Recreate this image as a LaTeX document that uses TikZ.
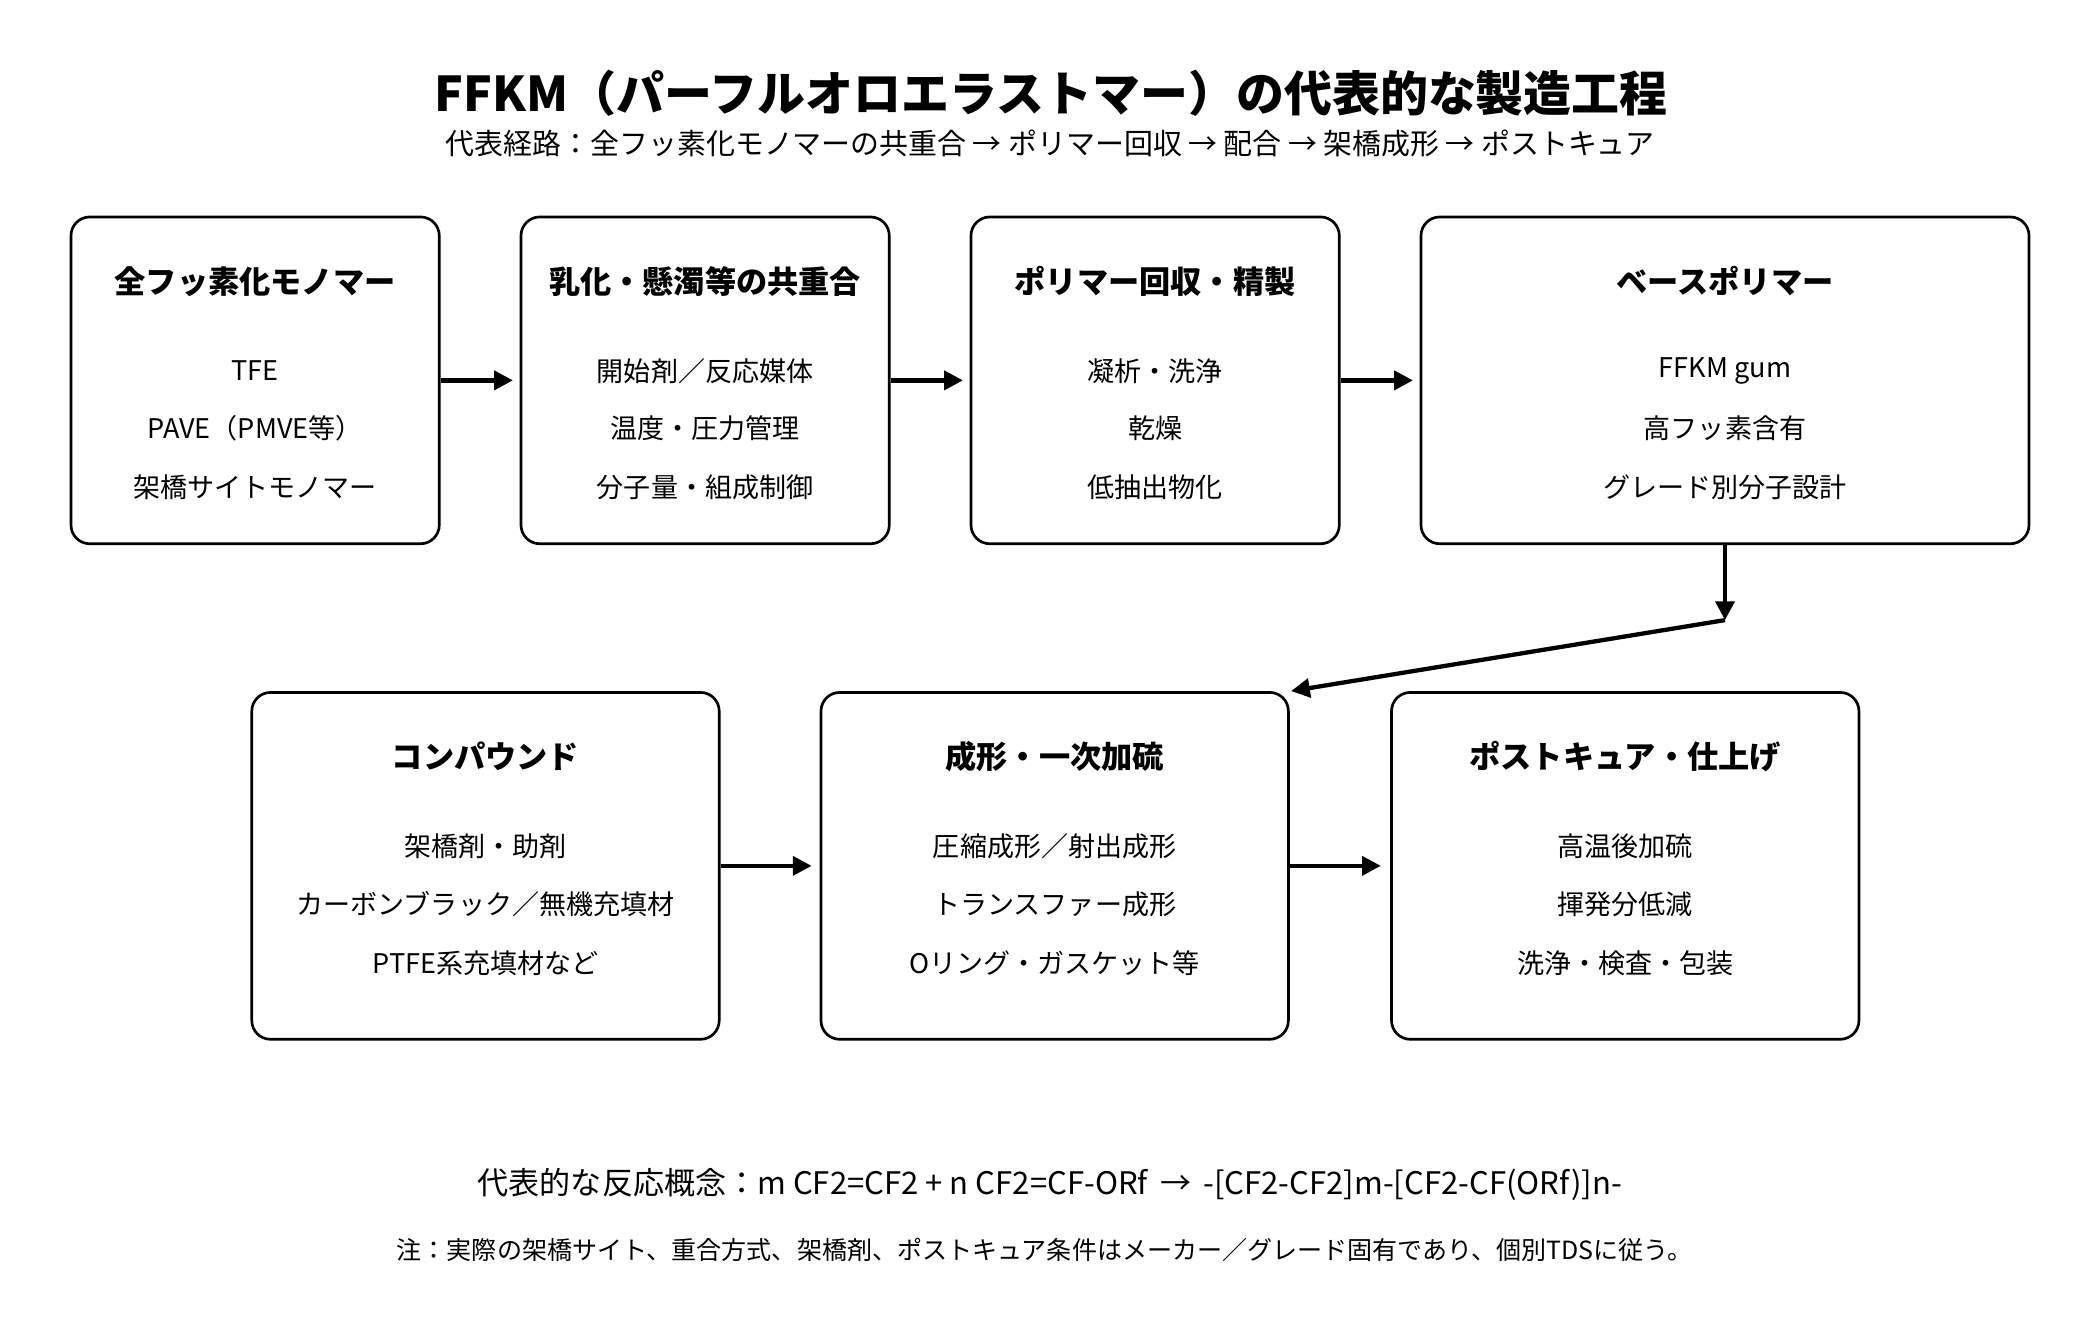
\documentclass[tikz,border=0pt]{standalone}
\usepackage{fontspec}
\setmainfont{Noto Sans CJK JP}
\usetikzlibrary{arrows.meta,positioning}
\tikzset{
    stage/.style={draw, line width=2pt, rounded corners=14pt, align=center},
    head/.style={font=\fontsize{23.3}{27}\selectfont\bfseries},
    item/.style={font=\fontsize{20.2}{24}\selectfont},
    flow/.style={line width=3.2pt, -{Triangle[length=14pt,width=14pt]}}
}
\begin{document}
\begin{tikzpicture}[x=1pt,y=-1pt]
    \useasboundingbox (0,0) rectangle (1568,985);

    \node[font=\fontsize{35.8}{40}\selectfont\bfseries] (title) at (785,70)
        {FFKM（パーフルオロエラストマー）の代表的な製造工程};
    \node[font=\fontsize{21.6}{26}\selectfont] (sub) at (784,107)
        {代表経路：全フッ素化モノマーの共重合 → ポリマー回収 → 配合 → 架橋成形 → ポストキュア};

    % row 1
    \node[stage, minimum width=275pt, minimum height=244pt] (mono) at (190.5,284) {};
    \node[stage, minimum width=275pt, minimum height=244pt] (poly) at (526.5,284) {};
    \node[stage, minimum width=275pt, minimum height=244pt] (recov) at (862.5,284) {};
    \node[stage, minimum width=454pt, minimum height=244pt] (base) at (1288,284) {};
    % row 2
    \node[stage, minimum width=349pt, minimum height=259pt] (comp) at (362.5,646.5) {};
    \node[stage, minimum width=349pt, minimum height=259pt] (mold) at (787.5,646.5) {};
    \node[stage, minimum width=349pt, minimum height=259pt] (post) at (1213.5,646.5) {};

    % texts
    \node[head] at (190.5,210) {全フッ素化モノマー};
    \node[item] at (190.5,277) {TFE};
    \node[item] at (190.5,320) {PAVE（PMVE等）};
    \node[item] at (190.5,364) {架橋サイトモノマー};

    \node[head] at (526.5,210) {乳化・懸濁等の共重合};
    \node[item] at (526.5,277) {開始剤／反応媒体};
    \node[item] at (526.5,320) {温度・圧力管理};
    \node[item] at (526.5,364) {分子量・組成制御};

    \node[head] at (862.5,210) {ポリマー回収・精製};
    \node[item] at (862.5,277) {凝析・洗浄};
    \node[item] at (862.5,320) {乾燥};
    \node[item] at (862.5,364) {低抽出物化};

    \node[head] at (1288,210) {ベースポリマー};
    \node[item] at (1288,277) {FFKM gum};
    \node[item] at (1288,320) {高フッ素含有};
    \node[item] at (1288,364) {グレード別分子設計};

    \node[head] at (362.5,565) {コンパウンド};
    \node[item] at (362.5,632) {架橋剤・助剤};
    \node[item] at (362.5,675) {カーボンブラック／無機充填材};
    \node[item] at (362.5,719) {PTFE系充填材など};

    \node[head] at (787.5,565) {成形・一次加硫};
    \node[item] at (787.5,632) {圧縮成形／射出成形};
    \node[item] at (787.5,675) {トランスファー成形};
    \node[item] at (787.5,719) {Oリング・ガスケット等};

    \node[head] at (1213.5,565) {ポストキュア・仕上げ};
    \node[item] at (1213.5,632) {高温後加硫};
    \node[item] at (1213.5,675) {揮発分低減};
    \node[item] at (1213.5,719) {洗浄・検査・包装};

    % connectors
    \draw[flow] (mono.east) -- ++(54,0);
    \draw[flow] (poly.east) -- ++(54,0);
    \draw[flow] (recov.east) -- ++(54,0);
    \coordinate (bend) at (1288,463);
    \coordinate (join) at (964,516);
    \draw[flow] (base.south) -- (bend);
    \draw[flow] (bend) -- (join);
    \draw[flow] (comp.east) -- ++(68,0);
    \draw[flow] (mold.east) -- ++(68,0);

    \node[font=\fontsize{23.2}{27}\selectfont] (react) at (784,884)
        {代表的な反応概念：m CF2=CF2 + n CF2=CF-ORf \,→\, -[CF2-CF2]m-[CF2-CF(ORf)]n-};
    \node[font=\fontsize{18.7}{22}\selectfont] (note) at (780,933)
        {注：実際の架橋サイト、重合方式、架橋剤、ポストキュア条件はメーカー／グレード固有であり、個別TDSに従う。};
\end{tikzpicture}
\end{document}
